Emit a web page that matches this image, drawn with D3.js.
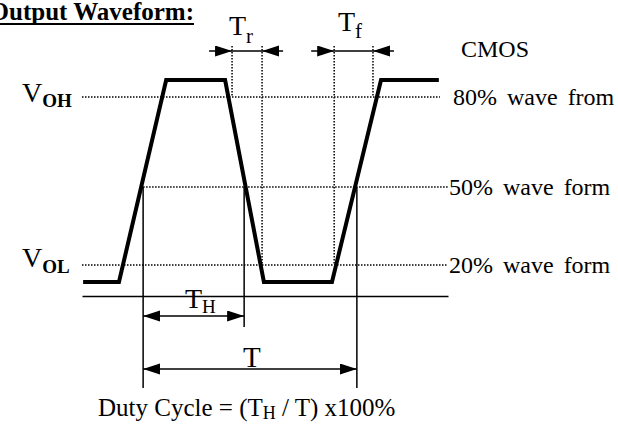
<!DOCTYPE html>
<html>
<head>
<meta charset="utf-8">
<script src="https://cdn.jsdelivr.net/npm/d3@7"></script>
<style>
  html, body { margin: 0; padding: 0; background: #fff; }
  svg { display: block; }
</style>
</head>
<body>
<div class="diagram"></div>
<script>
'use strict';
(function() {
  // Waveform vertices (time in arbitrary units 0..100, level in % of swing)
  var waveT = [0.3, 10.1, 23.0, 39.1, 49.7, 68.3, 81.7, 97.5];
  var waveV = [0, 0, 100, 100, 0, 0, 100, 100];

  // Threshold lines as drawn: level, start time, end time, label
  var thrLevel = [91.6, 47.0, 8.4];
  var thrFrom = [0, 16.7, 0];
  var thrTo = [97.8, 100, 100];
  var thrLabel = ['80% wave from', '50% wave form', '20% wave form'];

  // 50% crossings used for T_H and T
  var crossT = [16.7, 44.3, 75.1];

  // Rise / fall time markers (time, level where the dotted guide stops)
  var trT = [41.0, 49.2];
  var trLevel = [91.6, 8.4];
  var tfT = [68.9, 79.5];
  var tfLevel = [8.4, 91.6];

  var FONT = '"Liberation Serif", "Times New Roman", Times, serif';
  var w = 618;
  var h = 424;
  var axisY = 296;
  var markY = 51;
  var markTop = 46;
  var thY = 316;
  var tY = 369;
  var dropBottom = [388, 327, 388];
  var tail = 23;

  var x = d3.scaleLinear().domain([0, 100]).range([82, 448]);
  var y = d3.scaleLinear().domain([0, 100]).range([282, 80]);

  var svg = d3.select('.diagram')
    .append('svg')
    .attr('width', w)
    .attr('height', h)
    .attr('viewBox', '0 0 ' + w + ' ' + h)
    .attr('font-family', FONT);

  svg.append('defs')
    .append('marker')
    .attr('id', 'head')
    .attr('markerUnits', 'userSpaceOnUse')
    .attr('markerWidth', 18)
    .attr('markerHeight', 12)
    .attr('refX', 17)
    .attr('refY', 5.5)
    .attr('orient', 'auto-start-reverse')
    .append('path')
    .attr('d', 'M0,0L17,5.5L0,11Z')
    .attr('fill', '#000');

  var dotted = function(sel) {
    sel.attr('stroke', '#000')
      .attr('stroke-width', 1.5)
      .attr('stroke-dasharray', '1.5,1.5')
      .attr('fill', 'none');
  };

  // Threshold dotted lines
  svg.append('g')
    .attr('class', 'thresholds')
    .selectAll('line')
    .data(thrLevel)
    .enter()
    .append('line')
    .attr('x1', function(d, i) { return x(thrFrom[i]); })
    .attr('x2', function(d, i) { return x(thrTo[i]); })
    .attr('y1', function(d) { return y(d); })
    .attr('y2', function(d) { return y(d); })
    .call(dotted);

  // Dotted guides for Tr / Tf
  var guides = trT.map(function(t, i) { return { t: t, v: trLevel[i] }; })
    .concat(tfT.map(function(t, i) { return { t: t, v: tfLevel[i] }; }));

  svg.append('g')
    .attr('class', 'guides')
    .selectAll('line')
    .data(guides)
    .enter()
    .append('line')
    .attr('x1', function(d) { return x(d.t); })
    .attr('x2', function(d) { return x(d.t); })
    .attr('y1', markTop)
    .attr('y2', function(d) { return y(d.v); })
    .call(dotted);

  // Time axis
  var axis = svg.append('g')
    .attr('class', 'axis')
    .attr('transform', 'translate(0,' + axisY + ')')
    .call(d3.axisBottom(x).ticks(0).tickSizeOuter(0));
  axis.select('.domain').attr('stroke', '#000').attr('stroke-width', 1.5);

  // Vertical drop lines at 50% crossings
  svg.append('g')
    .attr('class', 'drops')
    .selectAll('line')
    .data(crossT)
    .enter()
    .append('line')
    .attr('x1', function(d) { return x(d); })
    .attr('x2', function(d) { return x(d); })
    .attr('y1', y(thrLevel[1]))
    .attr('y2', function(d, i) { return dropBottom[i]; })
    .attr('stroke', '#000')
    .attr('stroke-width', 1.5);

  // Waveform
  var line = d3.line()
    .x(function(d, i) { return x(waveT[i]); })
    .y(function(d) { return y(d); });

  svg.append('path')
    .datum(waveV)
    .attr('d', line)
    .attr('fill', 'none')
    .attr('stroke', '#000')
    .attr('stroke-width', 4)
    .attr('stroke-linejoin', 'miter');

  // Dimension arrows
  var arrows = svg.append('g').attr('class', 'arrows')
    .attr('stroke', '#000').attr('stroke-width', 1.5);

  // T_H and T : heads at both ends
  [[crossT[0], crossT[1], thY], [crossT[0], crossT[2], tY]].forEach(function(a) {
    arrows.append('line')
      .attr('x1', x(a[0])).attr('x2', x(a[1]))
      .attr('y1', a[2]).attr('y2', a[2])
      .attr('marker-start', 'url(#head)')
      .attr('marker-end', 'url(#head)');
  });

  // Tr and Tf : heads pointing inward
  [trT, tfT].forEach(function(p) {
    var a = x(p[0]), b = x(p[1]);
    arrows.append('line').attr('x1', a - tail).attr('x2', a)
      .attr('y1', markY).attr('y2', markY).attr('marker-end', 'url(#head)');
    arrows.append('line').attr('x1', b + tail - 2).attr('x2', b)
      .attr('y1', markY).attr('y2', markY).attr('marker-end', 'url(#head)');
    arrows.append('line').attr('x1', a).attr('x2', b)
      .attr('y1', markY).attr('y2', markY);
  });

  // Labels
  var txt = svg.append('g').attr('class', 'labels').attr('fill', '#000');

  txt.append('text')
    .attr('x', 194).attr('y', 20)
    .attr('text-anchor', 'end')
    .attr('font-size', 25)
    .attr('font-weight', 'bold')
    .text('Output Waveform:');
  txt.append('line')
    .attr('x1', 0).attr('x2', 194).attr('y1', 24).attr('y2', 24)
    .attr('stroke', '#000').attr('stroke-width', 2);

  txt.append('text')
    .attr('x', 461).attr('y', 57)
    .attr('font-size', 24)
    .text('CMOS');

  txt.selectAll('.thr')
    .data(thrLabel)
    .enter()
    .append('text')
    .attr('class', 'thr')
    .attr('x', function(d, i) { return i === 0 ? 453 : 449; })
    .attr('y', function(d, i) { return y(thrLevel[i]) + 8; })
    .attr('font-size', 24)
    .attr('word-spacing', 4)
    .text(function(d) { return d; });

  // Symbol with subscript
  var sym = function(px, py, main, sub, size, subSize, dy, bold) {
    var t = txt.append('text').attr('x', px).attr('y', py).attr('font-size', size);
    t.append('tspan').text(main);
    t.append('tspan')
      .attr('dy', dy)
      .attr('font-size', subSize)
      .attr('font-weight', bold ? 'bold' : null)
      .text(sub);
    return t;
  };

  sym(22, 102, 'V', 'OH', 28, 19, 5, true);
  sym(22, 267, 'V', 'OL', 28, 19, 6, true);
  sym(229, 35, 'T', 'r', 28, 21, 8, false);
  sym(338, 31, 'T', 'f', 28, 21, 7, false);
  sym(185, 308, 'T', 'H', 28, 19, 5, false);

  txt.append('text')
    .attr('x', 243).attr('y', 367)
    .attr('font-size', 29)
    .text('T');

  var duty = txt.append('text').attr('x', 98).attr('y', 416).attr('font-size', 25);
  duty.append('tspan').text('Duty Cycle = (T');
  duty.append('tspan').attr('dy', 3).attr('font-size', 18).text('H');
  duty.append('tspan').attr('dy', -3).text(' / T) x100%');
})();
</script>
</body>
</html>
